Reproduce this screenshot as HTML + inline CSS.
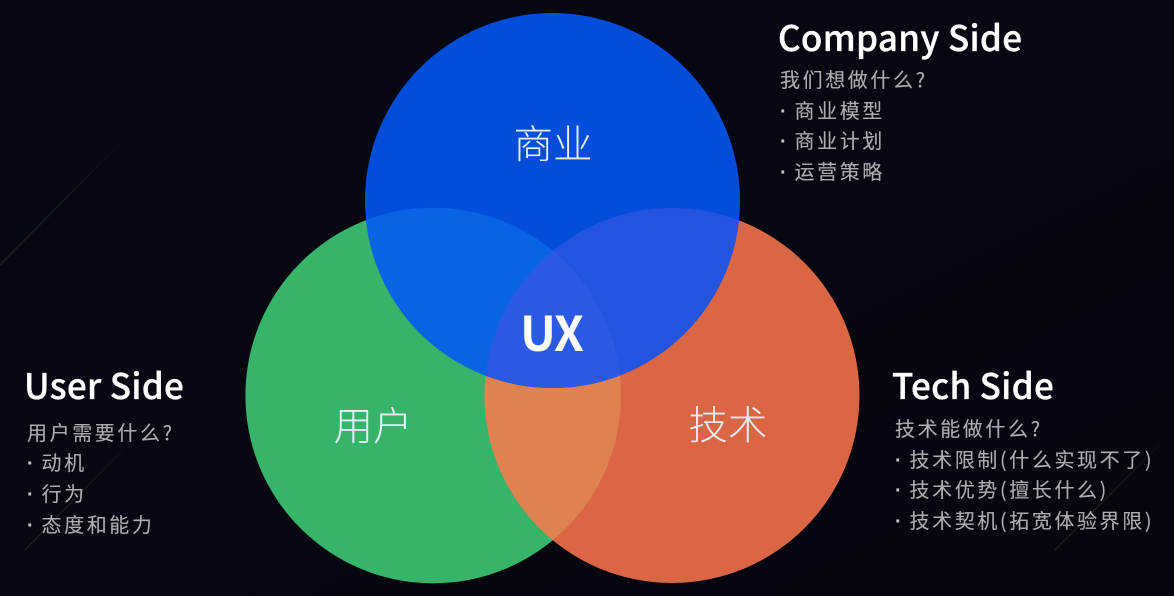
<!DOCTYPE html>
<html><head><meta charset="utf-8">
<style>
html,body{margin:0;padding:0;background:#05060f}
svg{display:block}
text{font-family:"Noto Sans CJK SC","Liberation Sans",sans-serif}
.h{font-size:35px;font-weight:500;fill:#fff;letter-spacing:.3px;stroke:#fff;stroke-width:.35px}
.t{font-size:20px;fill:#aeaeb1;letter-spacing:2.6px;stroke:#aeaeb1;stroke-width:.12px}
.d{font-size:20px;fill:#c4c4c6;font-family:"Liberation Sans",sans-serif;font-weight:700}
.c{font-size:39.5px;fill:#e9eef8;font-weight:300}
</style></head><body>
<svg width="1174" height="596" viewBox="0 0 1174 596" xmlns="http://www.w3.org/2000/svg">
<defs>
<linearGradient id="bg" x1="0" y1="0" x2="1" y2="1"><stop offset="0" stop-color="#060812"/><stop offset="1" stop-color="#05060e"/></linearGradient>
<linearGradient id="l1" x1="0" y1="1" x2="1" y2="0"><stop offset="0" stop-color="#2e2622" stop-opacity=".7"/><stop offset=".5" stop-color="#2e2622" stop-opacity=".6"/><stop offset="1" stop-color="#1a2030" stop-opacity="0"/></linearGradient>
<clipPath id="cb"><circle cx="552.5" cy="200.5" r="187.5"/></clipPath>
<clipPath id="cg"><circle cx="433.2" cy="395.5" r="187.8"/></clipPath>
</defs>
<rect width="1174" height="596" fill="url(#bg)"/>
<path d="M0 265L135 128V0H0Z" fill="#070a16" opacity=".6"/>
<line x1="0" y1="265" x2="130" y2="133" stroke="url(#l1)" stroke-width="1.5"/>
<line x1="25" y1="550" x2="140" y2="432" stroke="url(#l1)" stroke-width="1.5"/>
<line x1="1055" y1="550" x2="1174" y2="430" stroke="url(#l1)" stroke-width="1.5"/>
<circle cx="433.2" cy="395.5" r="187.8" fill="#35b46a"/>
<circle cx="672" cy="395.5" r="187.5" fill="#db6644"/>
<g clip-path="url(#cg)"><circle cx="672" cy="395.5" r="187.5" fill="#e08250"/></g>
<circle cx="552.5" cy="200.5" r="187.5" fill="#034ddb"/>
<g clip-path="url(#cb)">
<circle cx="433.2" cy="395.5" r="187.8" fill="#0765e4"/>
<circle cx="672" cy="395.5" r="187.5" fill="#2354e0"/>
<g clip-path="url(#cg)"><circle cx="672" cy="395.5" r="187.5" fill="#2b59e2"/></g>
</g>
<text class="c" x="513.5" y="158.5">商业</text>
<text class="c" x="333.5" y="440.5">用户</text>
<text class="c" x="688.5" y="439.5">技术</text>
<text x="520" y="351" style="font-size:48px;font-weight:700;fill:#fff;letter-spacing:-1.5px">UX</text>
<text class="h" x="778" y="51">Company Side</text>
<text class="t" x="780" y="87">我们想做什么?</text>
<text class="d" x="780" y="118">·</text><text class="t" x="794.5" y="118">商业模型</text>
<text class="d" x="780" y="148">·</text><text class="t" x="794.5" y="148">商业计划</text>
<text class="d" x="780" y="179">·</text><text class="t" x="794.5" y="179">运营策略</text>
<text class="h" x="24" y="399">User Side</text>
<text class="t" x="27" y="440">用户需要什么?</text>
<text class="d" x="27" y="470">·</text><text class="t" x="41.5" y="470">动机</text>
<text class="d" x="27" y="501">·</text><text class="t" x="41.5" y="501">行为</text>
<text class="d" x="27" y="532">·</text><text class="t" x="41.5" y="532">态度和能力</text>
<text class="h" x="892" y="399">Tech Side</text>
<text class="t" x="895" y="436">技术能做什么?</text>
<text class="d" x="895" y="467">·</text><text class="t" x="909.5" y="467">技术限制(什么实现不了)</text>
<text class="d" x="895" y="497">·</text><text class="t" x="909.5" y="497">技术优势(擅长什么)</text>
<text class="d" x="895" y="528">·</text><text class="t" x="909.5" y="528">技术契机(拓宽体验界限)</text>
</svg>
</body></html>
